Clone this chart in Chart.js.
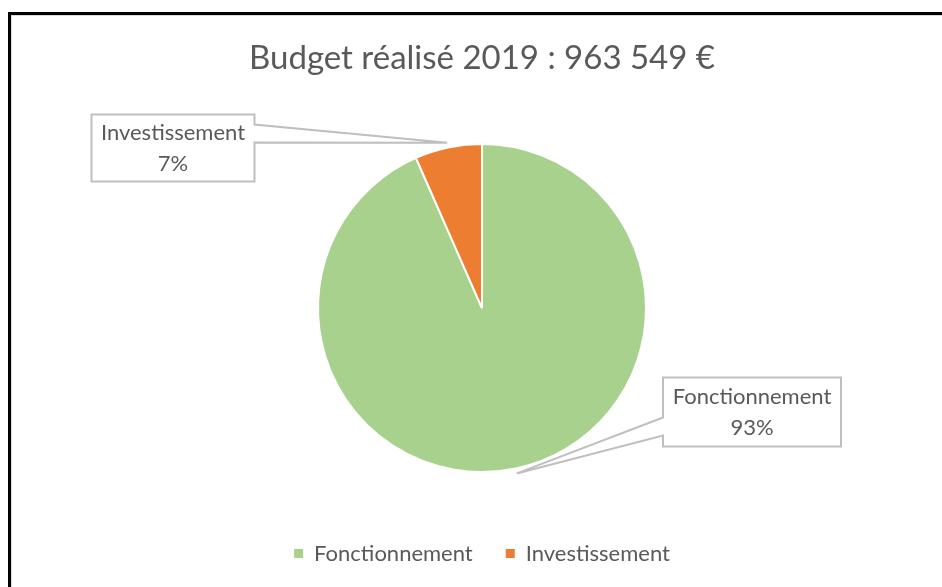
<!DOCTYPE html>
<html>
<head>
<meta charset="utf-8">
<script src="https://cdn.jsdelivr.net/npm/chart.js@4.4.1/dist/chart.umd.min.js"></script>
<style>
    html, body { margin: 0; padding: 0; background: #fff; }
    #wrap { position: relative; width: 942px; height: 587px; overflow: hidden; }
    #budget-chart { position: absolute; left: 0; top: 0; }
    #frame {
        position: absolute; left: 8px; top: 12px; width: 960px; height: 600px;
        border-left: 3px solid #000; border-top: 3px solid #000;
        box-shadow: inset 1px 1px 0 #d9d9d9; pointer-events: none;
    }
</style>
</head>
<body>
<div id="wrap">
    <canvas id="budget-chart" width="942" height="587"></canvas>
    <div id="frame"></div>
</div>
<script>
const categories = ['Fonctionnement', 'Investissement'];
const shares = [93.4, 6.6];
const sliceColors = ['#A9D18E', '#ED7D31'];
const chartTitle = 'Budget réalisé 2019 : 963 549 €';

const textColor = '#595959';
const fontFamily = "Lato, 'Open Sans', sans-serif";

// callout boxes (Excel style), placed relative to the pie centre
const callouts = [
    { dx: 270, dy: 104, w: 178, h: 69, side: 'left', wedge: [40, 58] },
    { dx: -309, dy: -160, w: 163, h: 67, side: 'right', wedge: [10, 28] }
];

const calloutPlugin = {
    id: 'callouts',
    afterDatasetsDraw(chart) {
        const ctx = chart.ctx;
        const meta = chart.getDatasetMeta(0);
        const total = shares.reduce((a, b) => a + b, 0);
        meta.data.forEach((arc, i) => {
            const c = callouts[i];
            const mid = (arc.startAngle + arc.endAngle) / 2;
            const r = arc.outerRadius + 5;
            const ax = arc.x + Math.cos(mid) * r;
            const ay = arc.y + Math.sin(mid) * r;
            const cx = arc.x + c.dx, cy = arc.y + c.dy;
            const L = cx - c.w / 2, R = cx + c.w / 2, T = cy - c.h / 2, B = cy + c.h / 2;

            ctx.save();
            ctx.beginPath();
            if (c.side === 'right') {
                ctx.moveTo(L, T); ctx.lineTo(R, T);
                ctx.lineTo(R, T + c.wedge[0]); ctx.lineTo(ax, ay); ctx.lineTo(R, T + c.wedge[1]);
                ctx.lineTo(R, B); ctx.lineTo(L, B);
            } else {
                ctx.moveTo(L, T); ctx.lineTo(R, T); ctx.lineTo(R, B); ctx.lineTo(L, B);
                ctx.lineTo(L, T + c.wedge[1]); ctx.lineTo(ax, ay); ctx.lineTo(L, T + c.wedge[0]);
            }
            ctx.closePath();
            ctx.fillStyle = '#fff';
            ctx.fill();
            ctx.strokeStyle = '#BFBFBF';
            ctx.lineWidth = 2;
            ctx.stroke();

            ctx.fillStyle = textColor;
            ctx.font = `22px ${fontFamily}`;
            ctx.textAlign = 'center';
            ctx.textBaseline = 'middle';
            ctx.fillText(categories[i], cx, cy - 15);
            ctx.fillText(Math.round(shares[i] / total * 100) + '%', cx, cy + 16);
            ctx.restore();
        });
    }
};

new Chart(document.getElementById('budget-chart'), {
    type: 'pie',
    data: {
        labels: categories,
        datasets: [{
            data: shares,
            backgroundColor: sliceColors,
            borderColor: '#fff',
            borderWidth: 2,
            radius: 164
        }]
    },
    options: {
        responsive: false,
        animation: false,
        layout: { padding: { left: 22, right: 0, top: 0, bottom: 12.5 } },
        plugins: {
            title: {
                display: true,
                text: chartTitle,
                color: textColor,
                font: { family: fontFamily, size: 33, weight: 'normal' },
                padding: { top: 39, bottom: 28 }
            },
            legend: {
                position: 'bottom',
                labels: {
                    color: textColor,
                    font: { family: fontFamily, size: 22 },
                    boxWidth: 9,
                    boxHeight: 9,
                    padding: 33,
                    generateLabels(chart) {
                        const items = Chart.overrides.pie.plugins.legend.labels.generateLabels(chart);
                        items.forEach(it => { it.lineWidth = 0; it.strokeStyle = it.fillStyle; });
                        return items;
                    }
                }
            },
            tooltip: { enabled: false }
        }
    },
    plugins: [calloutPlugin]
});
</script>
</body>
</html>
